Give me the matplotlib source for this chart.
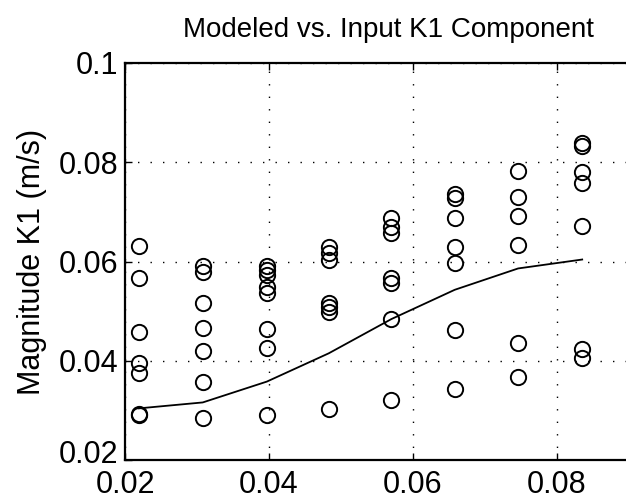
import numpy as np
from matplotlib import pyplot as plt
from matplotlib.transforms import ScaledTranslation

plt.rcParams['font.family'] = ['Liberation Sans', 'DejaVu Sans']

# input frequencies (one column of circles each)
freq = [0.0219, 0.0308, 0.0397, 0.0483, 0.0570, 0.0658, 0.0746, 0.0835]

# measured K1 magnitudes per column
k1_input = [
    [0.0632, 0.0567, 0.0457, 0.0395, 0.0376, 0.0292, 0.0290],
    [0.0591, 0.0579, 0.0516, 0.0467, 0.0420, 0.0358, 0.0285],
    [0.0590, 0.0582, 0.0573, 0.0549, 0.0537, 0.0463, 0.0426, 0.0291],
    [0.0630, 0.0617, 0.0603, 0.0516, 0.0508, 0.0499, 0.0303],
    [0.0687, 0.0670, 0.0657, 0.0566, 0.0556, 0.0484, 0.0321],
    [0.0737, 0.0727, 0.0687, 0.0630, 0.0596, 0.0461, 0.0344],
    [0.0783, 0.0729, 0.0692, 0.0633, 0.0436, 0.0368],
    [0.0838, 0.0833, 0.0781, 0.0758, 0.0672, 0.0423, 0.0405],
]

# modeled curve
k1_model = [0.0304, 0.0316, 0.0358, 0.0415, 0.0484, 0.0543, 0.0586, 0.0604]

xticks = [0.02, 0.04, 0.06, 0.08]
yticks = [0.02, 0.04, 0.06, 0.08, 0.1]

fig = plt.figure(figsize=(6.26, 5.04), dpi=100)
# axes runs on past the right edge (picture is cropped there)
ax = fig.add_axes([125/626, 44/504, 576/626, 397/504])

for x, ys in zip(freq, k1_input):
    ax.plot([x]*len(ys), ys, 'o', mfc='none', mec='black', ms=11, mew=1.4)

ax.plot(freq, k1_model, '-', color='black', lw=1.3)

ax.set_xlim(0.02, 0.1)
ax.set_ylim(0.02, 0.1)
ax.set_xticks(xticks)
ax.set_xticklabels(['0.02', '0.04', '0.06', '0.08'])
ax.set_yticks(yticks)
ax.set_yticklabels(['0.02', '0.04', '0.06', '0.08', '0.1'])
ax.grid(True, color='black', linestyle=(0, (1, 8)), linewidth=1.0)
ax.tick_params(direction='in', length=5, width=1, labelsize=22, top=True)
ax.tick_params(axis='y', pad=5)
ax.tick_params(axis='x', pad=7)
ax.spines['right'].set_visible(False)
for s in ax.spines.values():
    s.set_linewidth(1.6)

# bottom y label sits a bit higher, as in the original
lab = ax.get_yticklabels()[0]
lab.set_transform(lab.get_transform() + ScaledTranslation(0, 6/72, fig.dpi_scale_trans))

ax.set_ylabel('Magnitude K1 (m/s)', fontsize=22, labelpad=8)
ax.set_title('Modeled vs. Input K1 Component', fontsize=20, pad=19,
             x=(388 - 125) / 576)

fig.savefig('out.png', dpi=100)
